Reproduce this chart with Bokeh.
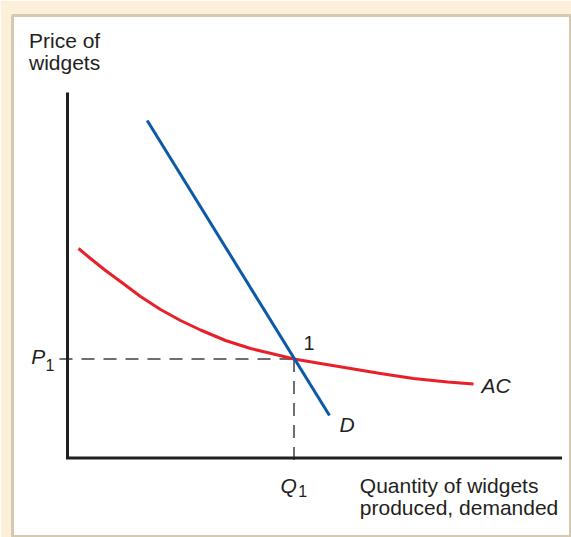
from bokeh.plotting import figure
from bokeh.embed import file_html
from bokeh.resources import INLINE
from bokeh.core.properties import value
from bokeh.models import Range1d

# ---- data (abstract units) ----
axis_q = [0.0, 0.0, 9.89]
axis_p = [7.31, 0.0, 0.0]

demand_q = [1.594, 5.24]
demand_p = [6.75, 0.85]

ac_q = [0.22, 0.46, 0.76, 1.06, 1.46, 1.86, 2.26, 2.66, 3.16, 3.66, 4.16, 4.53,
        5.06, 5.66, 6.26, 6.92, 7.60, 8.12]
ac_p = [4.19, 3.99, 3.75, 3.53, 3.23, 2.97, 2.75, 2.56, 2.35, 2.19, 2.07, 1.98,
        1.89, 1.79, 1.69, 1.59, 1.52, 1.48]

q1 = 4.53
p1 = 1.98
p_dash_start = -0.16
q_dash_end = -0.17

ylabel_lines = ["Price of", "widgets"]
xlabel_lines = ["Quantity of widgets", "produced, demanded"]

# ---- styling ----
TAN = "#fdf0da"
SHADOW = "#d6c9b2"
INK = "#231f20"
RED = "#e8202a"
BLUE = "#0b5aa8"
GRAY = "#6d6e71"
FONT = value("Liberation Sans")

p = figure(width=571, height=537, output_backend="svg", toolbar_location=None,
           x_axis_location=None, y_axis_location=None,
           x_range=Range1d(-1.1, 10.08), y_range=Range1d(-1.59, 8.85))
p.min_border_left = 12
p.min_border_top = 15
p.min_border_right = 0
p.min_border_bottom = 0
p.border_fill_color = TAN
p.background_fill_color = "white"
p.outline_line_color = SHADOW
p.outline_line_width = 3
p.xgrid.visible = False
p.ygrid.visible = False

# dashed guides
p.line([p_dash_start, q1], [p1, p1], line_color=GRAY, line_width=2, line_dash="13 9")
p.line([q1, q1], [p1, q_dash_end], line_color=GRAY, line_width=2, line_dash="13 9")

# axes
p.line(axis_q, axis_p, line_color=INK, line_width=3, line_join="miter")

# curves
p.line(ac_q, ac_p, line_color=RED, line_width=3, line_join="round")
p.line(demand_q, demand_p, line_color=BLUE, line_width=3)

# axis titles
p.text(x=[-0.77, -0.77], y=[8.356, 7.91], text=ylabel_lines, text_font=FONT,
       text_font_size="21px", text_color=INK, text_baseline="alphabetic", text_align="left")
p.text(x=[5.846, 5.846], y=[-0.556, -0.99], text=xlabel_lines, text_font=FONT,
       text_font_size="21px", text_color=INK, text_baseline="alphabetic", text_align="left")

# italic labels
p.text(x=[-0.726, 4.26, 8.28, 5.44], y=[2.03, -0.54, 1.456, 0.676], text=["P", "Q", "AC", "D"],
       text_font=FONT, text_font_size="21px", text_font_style="italic", text_color=INK,
       text_baseline="alphabetic", text_align="left")
# subscripts
p.text(x=[-0.44, 4.616], y=[1.87, -0.65], text=["1", "1"], text_font=FONT,
       text_font_size="16px", text_color=INK, text_baseline="alphabetic", text_align="left")
# point label
p.text(x=[4.72], y=[2.31], text=["1"], text_font=FONT, text_font_size="20px",
       text_color=INK, text_baseline="alphabetic", text_align="left")

open("out.html", "w").write(file_html(p, INLINE))
